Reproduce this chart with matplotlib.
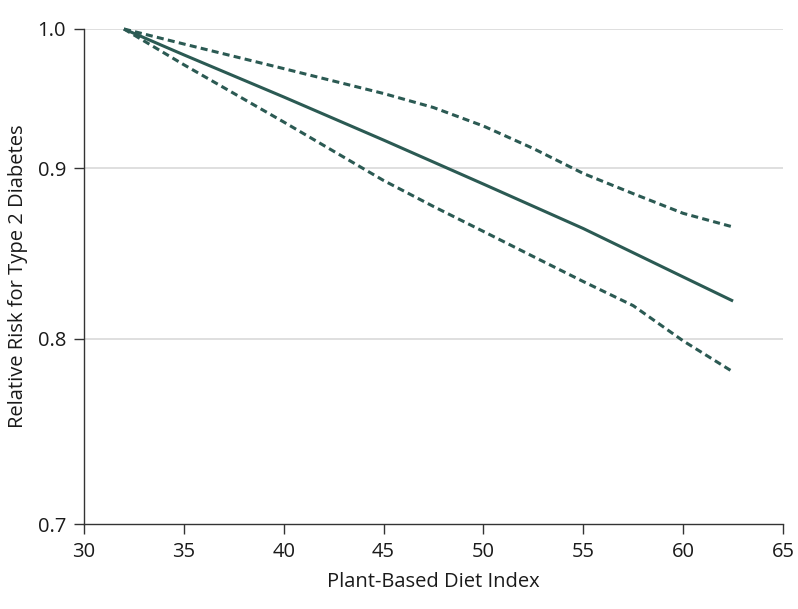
import numpy as np
import matplotlib
matplotlib.use("Agg")
import matplotlib.pyplot as plt

x_vals = [32, 35, 40, 45, 50, 55, 60, 62.5]
rr = [1.0, 0.9814, 0.9511, 0.9201, 0.8906, 0.8646, 0.8363, 0.8222]

x_ci = [32, 35, 40, 45, 47.5, 50, 52.5, 55, 57.5, 60, 62.5]
upper = [1.0, 0.9892, 0.9715, 0.9536, 0.9435, 0.9302, 0.9140, 0.8968, 0.8850, 0.8735, 0.8655]
lower = [1.0, 0.9743, 0.9331, 0.8927, 0.8775, 0.8629, 0.8482, 0.8336, 0.8195, 0.7990, 0.7822]

y_ticks = [0.7, 0.8, 0.9, 1.0]
x_ticks = [30, 35, 40, 45, 50, 55, 60, 65]

# axis positions of the reference's (non-uniform) y scale
_tick_pos = [0, 185, 356, 495]

def fwd(v):
    return np.interp(v, y_ticks, _tick_pos)

def inv(p):
    return np.interp(p, _tick_pos, y_ticks)

color = "#2b5a53"
plt.rcParams['font.family'] = ['Open Sans', 'DejaVu Sans']

fig = plt.figure(figsize=(7.98, 6.09), dpi=100)
ax = fig.add_axes([84/798, 1-524/609, (783-84)/798, (524-29)/609])
ax.set_yscale('function', functions=(fwd, inv))
ax.set_xlim(30, 65)
ax.set_ylim(0.7, 1.0)

ax.plot(x_vals, rr, color=color, lw=2.2, clip_on=False, solid_capstyle='butt', zorder=3)
ax.plot(x_ci, upper, color=color, lw=2.2, ls=(0, (2.3, 1.4)), clip_on=False, zorder=3)
ax.plot(x_ci, lower, color=color, lw=2.2, ls=(0, (2.3, 1.4)), clip_on=False, zorder=3)

ax.set_xticks(x_ticks)
ax.set_xticklabels([str(t) for t in x_ticks])
ax.set_yticks(y_ticks)
ax.set_yticklabels([f"{t:.1f}" for t in y_ticks])
ax.yaxis.set_minor_locator(matplotlib.ticker.NullLocator())

for yt in [0.8, 0.9, 1.0]:
    ax.axhline(yt, color="#d9d9d9", lw=1.2, zorder=1)

for s in ['top', 'right']:
    ax.spines[s].set_visible(False)
for s in ['left', 'bottom']:
    ax.spines[s].set_color('#333333')
    ax.spines[s].set_linewidth(1.0)

ax.tick_params(axis='both', direction='out', length=7, width=1.0, color='#333333',
               labelsize=14.5, labelcolor='#1a1a1a', pad=6)

ax.set_xlabel("Plant-Based Diet Index", fontsize=14.5, color='#1a1a1a', labelpad=7)
ax.set_ylabel("Relative Risk for Type 2 Diabetes", fontsize=14.5, color='#1a1a1a', labelpad=7)

fig.savefig("out.png", dpi=100)
